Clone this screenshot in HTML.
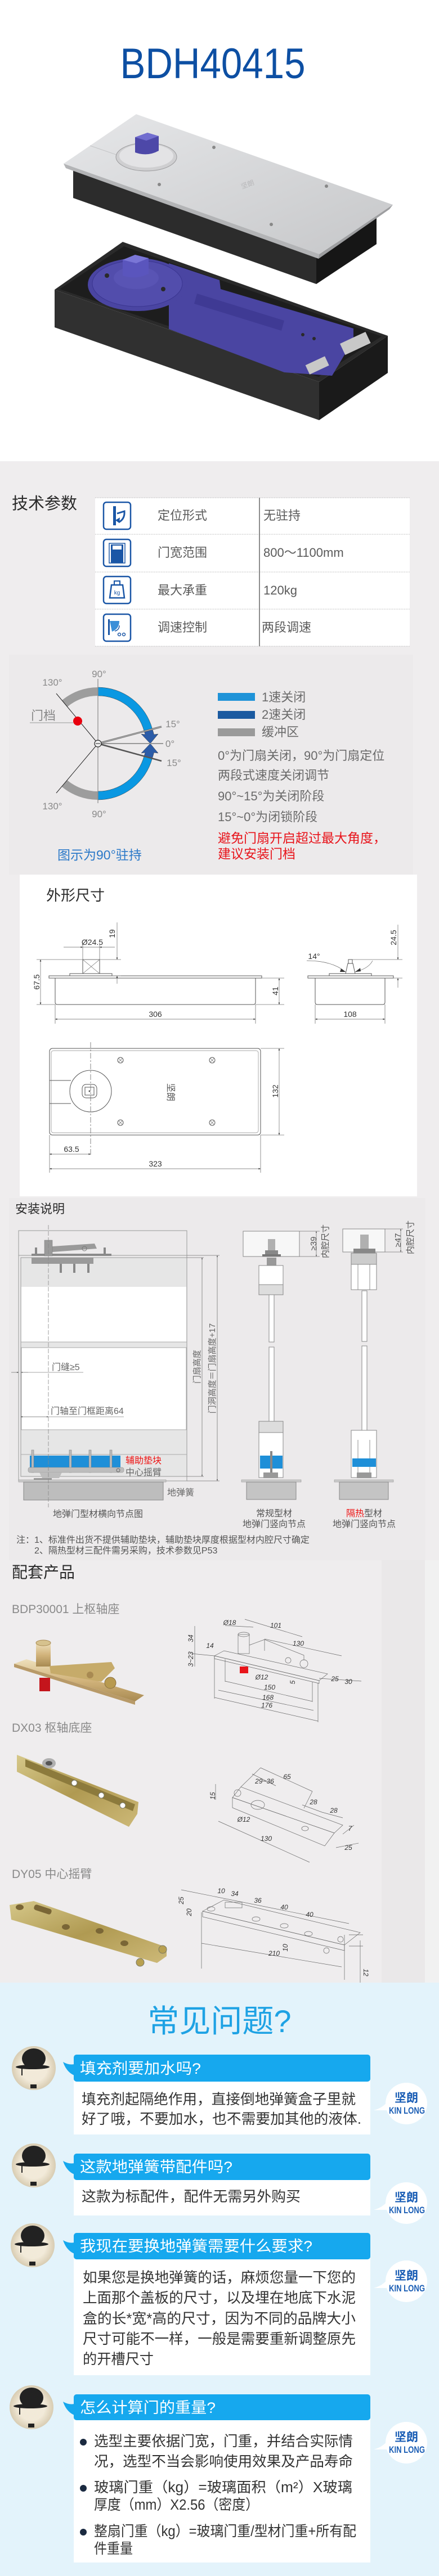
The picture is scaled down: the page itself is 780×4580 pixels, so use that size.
<!DOCTYPE html>
<html><head><meta charset="utf-8">
<style>
*{margin:0;padding:0;box-sizing:border-box}
body{width:780px;height:4580px;position:relative;overflow:hidden;background:#efedee;font-family:"Liberation Sans","Noto Sans CJK SC",sans-serif}
.a{position:absolute;white-space:nowrap}
.lb{font-size:22px;line-height:30px;color:#5a5a5a}
.h{font-size:28px;line-height:40px;color:#2a2a2a}
.dg{font-size:22px;line-height:30px;color:#6a6a6a}
.rd{font-size:23px;line-height:30px;color:#e8141b}
.cap{font-size:16px;line-height:20px;color:#555}
.acc{font-size:21px;line-height:28px;color:#8a8a8a}
svg text{font-family:"Liberation Sans","Noto Sans CJK SC",sans-serif}
.d{font-size:14px;fill:#333}
.g{font-size:17px;fill:#8a8a8a}
.ln{stroke:#555;stroke-width:1;fill:none}
.th{stroke:#777;stroke-width:.8;fill:none}
.dl{stroke:#666;stroke-width:.7;fill:none}
.qt{font-size:27px;fill:#fff}
.at{font-size:25.5px;fill:#333}
</style></head><body>

<div class="a" style="left:0;top:0;width:780px;height:820px;background:#fff"></div>
<div class="a" style="left:16px;top:1164px;width:718px;height:391px;background:#eceaeb"></div>
<div class="a" style="left:35px;top:1555px;width:706px;height:572px;background:#fff"></div>
<div class="a" style="left:16px;top:2130px;width:740px;height:644px;background:#eceaeb"></div>
<div class="a" style="left:678px;top:2774px;width:77px;height:751px;background:#eae8e9"></div>
<div class="a" style="left:755px;top:2774px;width:25px;height:751px;background:#f1f1f1"></div>
<div class="a" style="left:0;top:3525px;width:780px;height:1055px;background:#e3f3fb"></div>

<svg class="a" style="left:0;top:0" width="780" height="4580" viewBox="0 0 780 4580" xmlns="http://www.w3.org/2000/svg">
<defs>
<linearGradient id="lid" x1="0" y1="0" x2="1" y2="1"><stop offset="0" stop-color="#e6e7e9"/><stop offset="1" stop-color="#c6c7c9"/></linearGradient>
<linearGradient id="brass" x1="0" y1="0" x2="0" y2="1"><stop offset="0" stop-color="#eee0bc"/><stop offset=".5" stop-color="#d2b47c"/><stop offset="1" stop-color="#a88a52"/></linearGradient>
<linearGradient id="brass2" x1="0" y1="0" x2="1" y2="1"><stop offset="0" stop-color="#d6c88a"/><stop offset=".5" stop-color="#b09a52"/><stop offset="1" stop-color="#cdb978"/></linearGradient>
<radialGradient id="av" cx=".5" cy=".5" r=".5"><stop offset=".6" stop-color="#f2ead9"/><stop offset="1" stop-color="#d8ccb2"/></radialGradient>
<marker id="ar" viewBox="0 0 10 10" refX="10" refY="5" markerWidth="8" markerHeight="5" orient="auto-start-reverse"><path d="M0,1 L10,5 L0,9z" fill="#333"/></marker>
<marker id="ar2" viewBox="0 0 10 10" refX="10" refY="5" markerWidth="6" markerHeight="4" orient="auto-start-reverse"><path d="M0,1 L10,5 L0,9z" fill="#444"/></marker>
</defs>

<!-- TITLE -->
<text x="378" y="139" text-anchor="middle" font-size="76" textLength="329" lengthAdjust="spacingAndGlyphs" fill="#0d4fa3">BDH40415</text>

<!-- PRODUCT: upper lid -->
<polygon points="130,300 562,455 562,505 130,352" fill="#2c2c2c"/>
<polygon points="562,455 669,386 669,434 562,505" fill="#161616"/>
<polygon points="113,291 242,203 698,364 568,452" fill="url(#lid)"/>
<polygon points="113,291 568,452 566,460 117,299" fill="#b3b4b6"/>
<polygon points="568,452 698,364 692,372 566,460" fill="#9d9ea0"/>
<line x1="160" y1="259" x2="250" y2="290" stroke="#c4c5c7" stroke-width="1"/>
<ellipse cx="260" cy="279" rx="54" ry="25" fill="#cfcfd1" stroke="#9a9a9c"/>
<ellipse cx="260" cy="277" rx="48" ry="21" fill="#e3e3e5"/>
<path d="M240,244 L262,236 L282,242 L282,268 Q262,279 240,271Z" fill="#4d48a8"/>
<polygon points="240,244 262,236 282,242 260,250" fill="#716dcf"/>
<circle cx="380" cy="262" r="3" fill="#888"/><circle cx="283" cy="328" r="3" fill="#888"/>
<circle cx="580" cy="331" r="3" fill="#888"/><circle cx="482" cy="399" r="3" fill="#888"/>
<text x="430" y="336" font-size="12" fill="#b8b8ba" transform="rotate(-20 430 336)">坚朗</text>

<!-- PRODUCT: lower box -->
<polygon points="97,515 218,430 689,597 567,679" fill="#2a2a2a"/>
<polygon points="106,514 220,438 678,598 566,670" fill="#1d1d1d"/>
<polygon points="97,515 567,679 567,747 97,582" fill="#303030"/>
<polygon points="567,679 689,597 689,663 567,747" fill="#1a1a1a"/>
<polygon points="300,468 390,498 392,514 628,584 628,604 590,668 505,662 300,585" fill="#4a45a2"/>
<polygon points="350,522 505,570 500,588 345,540" fill="#3f3a94"/>
<ellipse cx="244" cy="506" rx="88" ry="47" fill="#4a45a2"/>
<ellipse cx="244" cy="504" rx="80" ry="41" fill="#524dac" stroke="#3a3590"/>
<ellipse cx="242" cy="494" rx="40" ry="20" fill="#5954b4"/>
<path d="M218,462 L240,453 L264,459 L264,487 Q240,498 218,490Z" fill="#5a55bd"/>
<polygon points="218,462 240,453 264,459 242,468" fill="#7a76d6"/>
<circle cx="190" cy="490" r="4" fill="#2a2a2a"/><circle cx="290" cy="514" r="4" fill="#2a2a2a"/>
<rect x="606" y="600" width="50" height="22" fill="#c8c8c8" transform="rotate(-25 630 610)"/>
<rect x="545" y="640" width="38" height="18" fill="#c8c8c8" transform="rotate(-25 565 650)"/>
<circle cx="538" cy="595" r="3" fill="#2a2a2a"/><circle cx="558" cy="602" r="3" fill="#2a2a2a"/>

<!-- TECH TABLE -->
<rect x="169" y="885" width="559" height="264" fill="#fff"/>
<g stroke="#b5b5b5" stroke-dasharray="1.5 1.5" stroke-width="1">
<line x1="169" y1="885" x2="728" y2="885"/><line x1="169" y1="950" x2="728" y2="950"/>
<line x1="169" y1="1017" x2="728" y2="1017"/><line x1="169" y1="1083" x2="728" y2="1083"/>
<line x1="169" y1="1149" x2="728" y2="1149"/>
</g>
<line x1="461" y1="885" x2="461" y2="1149" stroke="#666" stroke-width="1.5"/>
<g fill="#fff" stroke="#1a56a6" stroke-width="2.5">
<rect x="184" y="893" width="48" height="48" rx="5"/><rect x="184" y="959" width="48" height="48" rx="5"/>
<rect x="184" y="1025" width="48" height="48" rx="5"/><rect x="184" y="1092" width="48" height="48" rx="5"/>
</g>
<rect x="201" y="900" width="5" height="34" fill="#1a56a6"/>
<path d="M208,913 L221,909 Q222,922 212,928 L207,924" stroke="#1a56a6" stroke-width="3" fill="none"/>
<polygon points="205,925 213,920 212,930" fill="#1a56a6"/>
<rect x="194" y="966" width="28" height="35" fill="none" stroke="#1a56a6" stroke-width="1.5"/>
<rect x="197" y="968" width="22" height="33" fill="#1a56a6"/>
<rect x="200" y="970" width="16" height="7" fill="#fff"/>
<rect x="203" y="1033" width="10" height="7" fill="none" stroke="#1a56a6" stroke-width="2"/>
<path d="M198,1040 L218,1040 L221,1063 L195,1063Z" fill="none" stroke="#1a56a6" stroke-width="2.5"/>
<text x="208" y="1057" text-anchor="middle" font-size="10" fill="#1a56a6">kg</text>
<rect x="192" y="1101" width="3" height="28" fill="#1a56a6"/>
<path d="M195,1104 L212,1104 Q212,1118 199,1123Z" fill="#3a8fd8"/>
<path d="M204,1122 Q212,1120 212,1112" stroke="#1a56a6" stroke-width="1.5" fill="none"/>
<circle cx="212" cy="1128" r="2.5" fill="none" stroke="#1a56a6" stroke-width="1.5"/>
<circle cx="220" cy="1128" r="2.5" fill="none" stroke="#1a56a6" stroke-width="1.5"/>

<!-- ANGLE DIAGRAM -->
<path d="M174,1222 A100,100 0 0 0 109.7,1245.4 L119.4,1256.9 A85,85 0 0 1 174,1237 Z" fill="#9d9d9d"/>
<path d="M174,1222 A100,100 0 0 1 270.6,1296.1 L256.1,1300 A85,85 0 0 0 174,1237 Z" fill="#0a98e2" stroke="#333" stroke-width=".5"/>
<path d="M270.6,1296.1 A100,100 0 0 1 273.5,1306 L281,1305 L267,1322 L251,1305 L258,1306 A85,85 0 0 0 256.1,1300 Z" fill="#2b5ca8" stroke="#333" stroke-width=".5"/>
<path d="M174,1422 A100,100 0 0 1 109.7,1398.6 L119.4,1387.1 A85,85 0 0 0 174,1407 Z" fill="#9d9d9d"/>
<path d="M174,1422 A100,100 0 0 0 270.6,1347.9 L256.1,1344 A85,85 0 0 1 174,1407 Z" fill="#0a98e2" stroke="#333" stroke-width=".5"/>
<path d="M270.6,1347.9 A100,100 0 0 0 273.5,1338 L281,1339 L267,1322 L251,1339 L258,1338 A85,85 0 0 1 256.1,1344 Z" fill="#2b5ca8" stroke="#333" stroke-width=".5"/>
<line x1="174" y1="1207" x2="174" y2="1428" stroke="#8a8a8a" stroke-width="1.2"/>
<line x1="100" y1="1233" x2="174" y2="1322" stroke="#222" stroke-width="1"/>
<line x1="174" y1="1322" x2="100" y2="1410" stroke="#222" stroke-width="1"/>
<line x1="174" y1="1322" x2="290" y2="1322" stroke="#999" stroke-width="2"/>
<line x1="174" y1="1322" x2="287" y2="1292" stroke="#666" stroke-width="3"/>
<line x1="174" y1="1322" x2="287" y2="1292" stroke="#ccc" stroke-width="1"/>
<line x1="174" y1="1322" x2="287" y2="1353" stroke="#555" stroke-width="2.5"/>
<circle cx="174" cy="1322" r="6" fill="#eee" stroke="#222" stroke-width="1.2"/>
<line x1="170" y1="1322" x2="178" y2="1322" stroke="#222"/>
<text class="g" x="176" y="1204" text-anchor="middle">90°</text>
<text class="g" x="93" y="1219" text-anchor="middle">130°</text>
<text class="g" x="307" y="1293" text-anchor="middle">15°</text>
<text class="g" x="302" y="1328" text-anchor="middle">0°</text>
<text class="g" x="309" y="1362" text-anchor="middle">15°</text>
<text class="g" x="93" y="1439" text-anchor="middle">130°</text>
<text class="g" x="176" y="1453" text-anchor="middle">90°</text>
<text x="55" y="1280" font-size="22" fill="#888">门档</text>
<line x1="53" y1="1285" x2="130" y2="1285" stroke="#999"/>
<circle cx="138" cy="1282" r="8" fill="#e8000e"/>
<rect x="387" y="1232" width="66" height="14" fill="#1f93d8"/>
<rect x="387" y="1264" width="66" height="14" fill="#1b5aa0"/>
<rect x="387" y="1295" width="66" height="14" fill="#9a9a9a"/>

<!-- DIMENSION DRAWING: side view -->
<path class="ln" d="M98,1739 L98,1782 Q98,1786 102,1786 L450,1786 Q454,1786 454,1782 L454,1739"/>
<rect class="ln" x="87" y="1735" width="378" height="4"/>
<rect class="ln" x="124" y="1731" width="75" height="4"/>
<rect class="ln" x="147" y="1706" width="30" height="25"/>
<path class="th" d="M147,1706 L177,1731 M177,1706 L147,1731"/>
<path class="th" d="M65,1706 L215,1706 M65,1786 L98,1786 M454,1786 L505,1786 M465,1739 L505,1739 M199,1735 L215,1735 M147,1680 L147,1706 M177,1680 L177,1706 M98,1786 L98,1820 M454,1786 L454,1820"/>
<line class="dl" x1="72" y1="1706" x2="72" y2="1786" marker-start="url(#ar)" marker-end="url(#ar)"/>
<line class="dl" x1="496" y1="1739" x2="496" y2="1786" marker-start="url(#ar)" marker-end="url(#ar)"/>
<line class="dl" x1="208" y1="1640" x2="208" y2="1706" marker-end="url(#ar)"/>
<line class="dl" x1="208" y1="1735" x2="208" y2="1749" marker-start="url(#ar)"/>
<line class="dl" x1="113" y1="1684" x2="147" y2="1684" marker-end="url(#ar)"/>
<line class="dl" x1="204" y1="1684" x2="177" y2="1684" marker-end="url(#ar)"/>
<line class="dl" x1="147" y1="1684" x2="177" y2="1684"/>
<line class="dl" x1="98" y1="1812" x2="454" y2="1812" marker-start="url(#ar)" marker-end="url(#ar)"/>
<text class="d" x="164" y="1680" text-anchor="middle">Ø24.5</text>
<text class="d" transform="translate(70,1746) rotate(-90)" text-anchor="middle">67.5</text>
<text class="d" transform="translate(494,1762) rotate(-90)" text-anchor="middle">41</text>
<text class="d" transform="translate(204,1660) rotate(-90)" text-anchor="middle">19</text>
<text class="d" x="276" y="1808" text-anchor="middle">306</text>
<!-- end view -->
<path class="ln" d="M560,1739 L560,1782 Q560,1786 564,1786 L680,1786 Q684,1786 684,1782 L684,1739"/>
<rect class="ln" x="547" y="1735" width="152" height="4"/>
<rect class="ln" x="585" y="1731" width="75" height="4"/>
<polygon class="ln" points="614,1731 631,1731 627,1713 618,1713"/>
<rect class="ln" x="619" y="1706" width="7" height="7"/>
<path class="dl" d="M545,1708 Q590,1708 614,1728 M662,1708 Q655,1722 631,1728"/>
<polygon points="614,1728 606,1722 604,1728" fill="#333"/>
<polygon points="631,1728 640,1721 641,1727" fill="#333"/>
<path class="th" d="M626,1706 L715,1706 M699,1739 L715,1739 M560,1786 L560,1820 M684,1786 L684,1820"/>
<line class="dl" x1="707" y1="1644" x2="707" y2="1706" marker-end="url(#ar)"/>
<line class="dl" x1="707" y1="1739" x2="707" y2="1756" marker-start="url(#ar)"/>
<line class="dl" x1="560" y1="1812" x2="684" y2="1812" marker-start="url(#ar)" marker-end="url(#ar)"/>
<text class="d" x="558" y="1705" text-anchor="middle">14°</text>
<text class="d" transform="translate(704,1667) rotate(-90)" text-anchor="middle">24.5</text>
<text class="d" x="622" y="1808" text-anchor="middle">108</text>
<!-- top view -->
<rect class="ln" x="88" y="1864" width="375" height="154" rx="5"/>
<rect x="91" y="1868" width="368" height="146" rx="4" fill="none" stroke="#888" stroke-width=".7"/>
<path class="ln" d="M88,1921 L126,1921 M88,1962 L126,1962"/>
<circle class="ln" cx="161" cy="1940" r="37" fill="#fff"/>
<rect class="ln" x="146" y="1928" width="26" height="24" rx="7"/>
<rect class="ln" x="151" y="1933" width="16" height="14"/>
<circle cx="159" cy="1940" r="1.5" fill="#555"/>
<g class="ln"><circle cx="214" cy="1885" r="5"/><circle cx="377" cy="1885" r="5"/><circle cx="214" cy="1996" r="5"/><circle cx="377" cy="1996" r="5"/></g>
<path class="th" d="M210,1881 L218,1889 M218,1881 L210,1889 M373,1881 L381,1889 M381,1881 L373,1889 M210,1992 L218,2000 M218,1992 L210,2000 M373,1992 L381,2000 M381,1992 L373,2000"/>
<line x1="161" y1="1853" x2="161" y2="2056" stroke="#666" stroke-width=".8" stroke-dasharray="10 3 3 3"/>
<text transform="translate(298,1942) rotate(90)" text-anchor="middle" font-size="16" fill="#555">坚朗</text>
<path class="th" d="M463,1864 L505,1864 M463,2018 L505,2018 M88,2018 L88,2085 M463,2018 L463,2085"/>
<line class="dl" x1="496" y1="1864" x2="496" y2="2018" marker-start="url(#ar)" marker-end="url(#ar)"/>
<line class="dl" x1="88" y1="2052" x2="161" y2="2052" marker-start="url(#ar)" marker-end="url(#ar)"/>
<line class="dl" x1="88" y1="2078" x2="463" y2="2078" marker-start="url(#ar)" marker-end="url(#ar)"/>
<text class="d" transform="translate(494,1940) rotate(-90)" text-anchor="middle">132</text>
<text class="d" x="127" y="2048" text-anchor="middle">63.5</text>
<text class="d" x="276" y="2074" text-anchor="middle">323</text>

<!-- INSTALL: left drawing -->
<rect x="33" y="2188" width="299" height="445" fill="none" stroke="#999"/>
<rect x="37" y="2236" width="295" height="389" fill="#e6e6e6" stroke="#999"/>
<rect x="38" y="2288" width="293" height="98" fill="#fff"/>
<rect x="38" y="2396" width="293" height="146" fill="#fff" stroke="#aaa"/>
<line x1="37" y1="2386" x2="332" y2="2386" stroke="#aaa"/>
<line x1="37" y1="2586" x2="332" y2="2586" stroke="#aaa"/>
<line x1="33" y1="2232" x2="332" y2="2232" stroke="#999"/>
<rect x="56" y="2229" width="142" height="4" fill="#8a8a8a"/>
<polygon points="93,2216 168,2211 172,2220 93,2226" fill="#9a9a9a"/>
<rect x="79" y="2205" width="14" height="28" fill="#9a9a9a" stroke="#777" stroke-width=".5"/>
<rect x="62" y="2218" width="4" height="12" fill="#888"/><rect x="184" y="2218" width="4" height="12" fill="#888"/>
<circle cx="150" cy="2220" r="4" fill="none" stroke="#777"/>
<rect x="56" y="2236" width="110" height="11" fill="#9a9a9a"/>
<rect x="106" y="2247" width="4" height="16" fill="#888"/><rect x="130" y="2247" width="4" height="16" fill="#888"/><rect x="155" y="2247" width="4" height="16" fill="#888"/>
<rect x="53" y="2588" width="161" height="21" fill="#1e8fd8"/>
<g fill="#bbb" stroke="#777" stroke-width=".5"><rect x="56" y="2578" width="4" height="40"/><rect x="123" y="2578" width="4" height="40"/><rect x="158" y="2578" width="4" height="40"/><rect x="195" y="2578" width="4" height="40"/></g>
<rect x="50" y="2609" width="170" height="9" rx="3" fill="#bdbdbd" stroke="#888" stroke-width=".5"/>
<circle cx="210" cy="2614" r="3" fill="none" stroke="#666"/>
<polygon points="70,2618 110,2618 105,2628 75,2628" fill="#bdbdbd"/>
<rect x="60" y="2628" width="32" height="4" fill="#999"/>
<rect x="33" y="2631" width="262" height="4" fill="#ccc" stroke="#888" stroke-width=".5"/>
<rect x="42" y="2635" width="248" height="32" fill="#bdbdbd" stroke="#888"/>
<line x1="86" y1="2178" x2="86" y2="2680" stroke="#888" stroke-width=".8" stroke-dasharray="8 3"/>
<path class="th" d="M332,2232 L390,2232 M332,2236 L362,2236 M332,2625 L362,2625 M332,2633 L390,2633"/>
<line class="dl" x1="359" y1="2236" x2="359" y2="2625" marker-start="url(#ar2)" marker-end="url(#ar2)"/>
<line class="dl" x1="386" y1="2232" x2="386" y2="2633" marker-start="url(#ar2)" marker-end="url(#ar2)"/>
<line class="dl" x1="20" y1="2440" x2="33" y2="2440" marker-end="url(#ar2)"/>
<line class="dl" x1="50" y1="2440" x2="37" y2="2440" marker-end="url(#ar2)"/>
<line x1="37" y1="2440" x2="148" y2="2440" stroke="#888" stroke-width=".8"/>
<line class="dl" x1="37" y1="2519" x2="86" y2="2519" marker-start="url(#ar2)" marker-end="url(#ar2)"/>
<line x1="86" y1="2519" x2="220" y2="2519" stroke="#888" stroke-width=".8"/>
<text transform="translate(350,2430) rotate(-90)" text-anchor="middle" font-size="15" fill="#666" dy="5">门扇高度</text>
<text transform="translate(377,2433) rotate(-90)" text-anchor="middle" font-size="15" fill="#666" dy="5">门洞高度＝门扇高度+17</text>
<text x="92" y="2436" font-size="16" fill="#666">门缝≥5</text>
<text x="90" y="2514" font-size="16" fill="#666">门轴至门框距离64</text>
<text x="223" y="2602" font-size="16" fill="#ee1111">辅助垫块</text>
<text x="223" y="2623" font-size="16" fill="#666">中心摇臂</text>
<text x="297" y="2659" font-size="16" fill="#666">地弹簧</text>
<!-- middle drawing -->
<rect x="432" y="2189" width="100" height="45" fill="#f7f7f7" stroke="#888"/>
<rect x="476" y="2203" width="13" height="20" fill="#b0b0b0"/>
<rect x="471" y="2223" width="23" height="8" fill="#888"/>
<rect x="466" y="2230" width="33" height="4" fill="#777"/>
<rect x="474" y="2236" width="17" height="14" fill="#999"/>
<rect x="460" y="2250" width="43" height="34" fill="#fff" stroke="#888"/>
<rect x="460" y="2284" width="43" height="18" fill="#ddd" stroke="#888"/>
<rect x="478" y="2302" width="9" height="84" fill="#fff" stroke="#888"/>
<rect x="478" y="2395" width="9" height="132" fill="#fff" stroke="#888"/>
<rect x="460" y="2527" width="43" height="20" fill="#ddd" stroke="#888"/>
<rect x="460" y="2547" width="43" height="80" fill="#fff" stroke="#888"/>
<rect x="462" y="2588" width="40" height="23" fill="#1e8fd8"/>
<rect x="480" y="2580" width="4" height="40" fill="#888"/>
<rect x="468" y="2618" width="26" height="10" fill="#999"/>
<rect x="429" y="2631" width="106" height="4" fill="#ccc" stroke="#888" stroke-width=".5"/>
<rect x="438" y="2635" width="88" height="31" fill="#c4c4c4" stroke="#888"/>
<path class="th" d="M532,2189 L568,2189 M532,2234 L568,2234"/>
<line class="dl" x1="562" y1="2189" x2="562" y2="2234" marker-start="url(#ar2)" marker-end="url(#ar2)"/>
<text transform="translate(557,2211) rotate(-90)" text-anchor="middle" font-size="15" fill="#555" dy="5">≥39</text>
<text transform="translate(578,2207) rotate(-90)" text-anchor="middle" font-size="15" fill="#555" dy="5">内腔尺寸</text>
<!-- right drawing -->
<rect x="609" y="2185" width="75" height="41" fill="#f7f7f7" stroke="#888"/>
<rect x="640" y="2195" width="15" height="25" fill="#b0b0b0"/>
<rect x="628" y="2220" width="39" height="8" fill="#888"/>
<rect x="624" y="2228" width="45" height="20" fill="#ccc" stroke="#888"/>
<rect x="624" y="2248" width="45" height="45" fill="#fff" stroke="#888"/>
<path class="th" d="M636,2248 L636,2293 M657,2248 L657,2293"/>
<rect x="643" y="2295" width="9" height="90" fill="#fff" stroke="#888"/>
<rect x="643" y="2393" width="9" height="150" fill="#fff" stroke="#888"/>
<rect x="624" y="2543" width="45" height="84" fill="#fff" stroke="#888"/>
<path class="th" d="M636,2560 L636,2620 M657,2560 L657,2620"/>
<rect x="626" y="2593" width="42" height="15" fill="#1e8fd8"/>
<rect x="634" y="2618" width="26" height="10" fill="#999"/>
<rect x="594" y="2631" width="105" height="4" fill="#ccc" stroke="#888" stroke-width=".5"/>
<rect x="603" y="2635" width="87" height="31" fill="#c4c4c4" stroke="#888"/>
<path class="th" d="M684,2185 L716,2185 M684,2226 L716,2226"/>
<line class="dl" x1="712" y1="2185" x2="712" y2="2226" marker-start="url(#ar2)" marker-end="url(#ar2)"/>
<text transform="translate(707,2205) rotate(-90)" text-anchor="middle" font-size="15" fill="#555" dy="5">≥47</text>
<text transform="translate(729,2200) rotate(-90)" text-anchor="middle" font-size="15" fill="#555" dy="5">内腔尺寸</text>

<!-- ACCESSORY PHOTOS -->
<polygon points="25,2958 47,2950 256,3014 240,3025" fill="url(#brass)"/>
<polygon points="25,2958 240,3025 240,3031 25,2964" fill="#b89a68"/>
<rect x="64" y="2921" width="26" height="42" fill="url(#brass)"/>
<ellipse cx="77" cy="2921" rx="13" ry="5" fill="#d6c28e" stroke="#a88a52"/>
<rect x="70" y="2983" width="19" height="24" fill="#c4151c"/>
<polygon points="88,2962 198,2955 204,2966 180,2990 90,2975" fill="#c6ab6a"/>
<circle cx="196" cy="2992" r="10" fill="#b89a50" stroke="#8a7040"/>
<circle cx="160" cy="2978" r="6" fill="#a88a52"/>
<polygon points="30,3120 246,3204 244,3225 229,3248 30,3150" fill="url(#brass2)"/>
<polygon points="45,3128 240,3208 236,3220 45,3141" fill="#8c7a3c"/>
<ellipse cx="87" cy="3135" rx="12" ry="9" fill="#b0b0b0"/><ellipse cx="87" cy="3135" rx="6" ry="4" fill="#555"/>
<circle cx="132" cy="3170" r="5" fill="#fff" stroke="#776"/><circle cx="180" cy="3192" r="5" fill="#fff" stroke="#776"/><circle cx="218" cy="3210" r="5" fill="#fff" stroke="#776"/>
<polygon points="17,3387 60,3380 296,3462 296,3478 279,3490 20,3413" fill="url(#brass2)"/>
<ellipse cx="35" cy="3391" rx="7" ry="5" fill="#7a6636"/>
<rect x="60" y="3390" width="32" height="10" rx="4" fill="#7a6636" transform="rotate(18 76 3395)"/>
<ellipse cx="117" cy="3426" rx="7" ry="5" fill="#7a6636"/><ellipse cx="177" cy="3433" rx="7" ry="5" fill="#7a6636"/><ellipse cx="221" cy="3455" rx="7" ry="5" fill="#7a6636"/>
<circle cx="289" cy="3466" r="7" fill="#b8a050" stroke="#776"/><circle cx="249" cy="3489" r="7" fill="#b8a050" stroke="#776"/>

<!-- ACCESSORY DRAWINGS -->
<g class="dl">
<polygon points="381,2944 398,2935 582,2976 567,2988"/>
<polygon points="381,2944 567,2988 567,2993 381,2949"/>
<rect x="423" y="2906" width="20" height="34"/>
<ellipse cx="433" cy="2906" rx="10" ry="4"/>
<path d="M443,2925 L470,2915 L540,2943 L540,2952 M470,2915 L470,2935"/>
<circle cx="540" cy="2958" r="7"/>
<circle cx="512" cy="2952" r="5"/>
<path d="M400,2890 L450,2893 M435,2879 L537,2910 M470,2914 L607,2944 M400,2989 L555,3025 M388,3005 L557,3041 M381,3018 L565,3060 M567,2984 L642,2989 M346,2891 L346,2963 M340,2940 L381,2944 M381,2944 L381,3020 M565,2992 L565,3062 M555,2990 L555,3026 M400,2950 L400,2990"/>
</g>
<rect x="426" y="2963" width="15" height="12" fill="#e8151b"/>
<g class="dl">
<polygon points="413,3196 428,3177 609,3245 594,3259"/>
<polygon points="413,3196 594,3259 577,3282 413,3214"/>
<ellipse cx="458" cy="3209" rx="12" ry="8"/>
<ellipse cx="542" cy="3251" rx="6" ry="4"/>
<circle cx="422" cy="3188" r="6"/>
<path d="M463,3143 L555,3185 M448,3154 L490,3175 M537,3209 L572,3222 M572,3222 L609,3232 M388,3238 L550,3311 M383,3172 L383,3200 M597,3285 L637,3277 M609,3261 L629,3245 M463,3143 L428,3177 M555,3185 L540,3215"/>
</g>
<g class="dl">
<polygon points="360,3398 398,3378 640,3436 612,3458"/>
<polygon points="360,3398 612,3458 612,3468 360,3408"/>
<ellipse cx="375" cy="3394" rx="7" ry="4"/><rect x="400" y="3382" width="30" height="10"/>
<ellipse cx="455" cy="3412" rx="7" ry="4"/><ellipse cx="505" cy="3424" rx="7" ry="4"/><ellipse cx="548" cy="3438" rx="7" ry="4"/>
<path d="M358,3455 L607,3497 M358,3400 L358,3500 M640,3450 L640,3525 M322,3360 L620,3420 M612,3440 L612,3520 M620,3440 L645,3440 M620,3460 L645,3460"/>
<circle cx="605" cy="3448" r="5"/><circle cx="580" cy="3468" r="5"/>
</g>
<g font-size="12" fill="#333" font-style="italic">
<text x="408" y="2889" text-anchor="middle">Ø18</text><text x="490" y="2894" text-anchor="middle">101</text>
<text transform="translate(343,2913) rotate(-90)" text-anchor="middle">34</text>
<text x="373" y="2930" text-anchor="middle">14</text><text x="530" y="2926" text-anchor="middle">130</text>
<text transform="translate(343,2950) rotate(-90)" text-anchor="middle">3~23</text>
<text x="465" y="2986" text-anchor="middle">Ø12</text>
<text transform="translate(524,2991) rotate(-90)" text-anchor="middle">5</text>
<text x="479" y="3004" text-anchor="middle">150</text><text x="476" y="3022" text-anchor="middle">168</text><text x="474" y="3036" text-anchor="middle">176</text>
<text x="595" y="2989" text-anchor="middle">25</text><text x="619" y="2994" text-anchor="middle">30</text>
<text x="510" y="3163" text-anchor="middle">65</text><text x="470" y="3171" text-anchor="middle">29~36</text>
<text transform="translate(382,3193) rotate(-90)" text-anchor="middle">15</text>
<text x="557" y="3208" text-anchor="middle">28</text><text x="593" y="3223" text-anchor="middle">28</text>
<text x="433" y="3239" text-anchor="middle">Ø12</text><text x="622" y="3255" text-anchor="middle">7</text>
<text x="473" y="3273" text-anchor="middle">130</text><text x="619" y="3289" text-anchor="middle">25</text>
<text x="393" y="3366" text-anchor="middle">10</text><text x="417" y="3371" text-anchor="middle">34</text>
<text x="458" y="3383" text-anchor="middle">36</text><text x="505" y="3395" text-anchor="middle">40</text><text x="550" y="3408" text-anchor="middle">40</text>
<text transform="translate(326,3379) rotate(-90)" text-anchor="middle">25</text>
<text transform="translate(340,3400) rotate(-90)" text-anchor="middle">20</text>
<text x="487" y="3477" text-anchor="middle">210</text>
<text transform="translate(511,3463) rotate(-90)" text-anchor="middle">10</text>
<text transform="translate(646,3507) rotate(90)" text-anchor="middle">12</text>
</g>

<!-- FAQ title -->
<text x="390" y="3613" text-anchor="middle" font-size="56" fill="#1ea2e4">常见问题?</text>

<!-- FAQ avatars -->
<circle cx="60" cy="3677" r="39" fill="url(#av)"/>
<circle cx="60" cy="3850" r="39" fill="url(#av)"/>
<circle cx="58" cy="3992" r="39" fill="url(#av)"/>
<circle cx="56" cy="4280" r="39" fill="url(#av)"/>
<g fill="#222">
<ellipse cx="60" cy="3660" rx="21" ry="18"/><ellipse cx="58" cy="3675" rx="30" ry="4"/><rect x="38" y="3676" width="2" height="14"/><rect x="54" y="3706" width="11" height="7"/>
<ellipse cx="60" cy="3833" rx="21" ry="18"/><ellipse cx="58" cy="3848" rx="30" ry="4"/><rect x="38" y="3849" width="2" height="14"/><rect x="54" y="3879" width="11" height="7"/>
<ellipse cx="58" cy="3975" rx="21" ry="18"/><ellipse cx="56" cy="3990" rx="30" ry="4"/><rect x="36" y="3991" width="2" height="14"/><rect x="52" y="4021" width="11" height="7"/>
<ellipse cx="56" cy="4263" rx="21" ry="18"/><ellipse cx="54" cy="4278" rx="30" ry="4"/><rect x="34" y="4279" width="2" height="14"/><rect x="50" y="4309" width="11" height="7"/>
</g>
<g fill="#fff">
<rect x="131" y="3698" width="527" height="97"/>
<rect x="131" y="3873" width="527" height="66"/>
<rect x="131" y="4014" width="527" height="209"/>
<rect x="131" y="4300" width="527" height="256"/>
</g>
<g fill="#16a8ee">
<rect x="131" y="3653" width="527" height="48" rx="5"/><path d="M112,3666 Q122,3672 132,3670 L132,3690 Q118,3684 112,3666Z"/>
<rect x="131" y="3829" width="527" height="47" rx="5"/><path d="M112,3842 Q122,3848 132,3846 L132,3866 Q118,3860 112,3842Z"/>
<rect x="131" y="3970" width="527" height="47" rx="5"/><path d="M112,3983 Q122,3989 132,3987 L132,4007 Q118,4001 112,3983Z"/>
<rect x="131" y="4257" width="527" height="46" rx="5"/><path d="M112,4270 Q122,4276 132,4274 L132,4294 Q118,4288 112,4270Z"/>
</g>
<g fill="#fff">
<circle cx="722" cy="3740" r="37"/><path d="M664,3752 Q680,3748 690,3735 L694,3752Z"/>
<circle cx="722" cy="3917" r="37"/><path d="M664,3929 Q680,3925 690,3912 L694,3929Z"/>
<circle cx="722" cy="4056" r="37"/><path d="M664,4068 Q680,4064 690,4051 L694,4068Z"/>
<circle cx="722" cy="4343" r="37"/><path d="M664,4355 Q680,4351 690,4338 L694,4355Z"/>
</g>
<g fill="#1b5eb5" font-weight="bold" text-anchor="middle">
<text x="722" y="3737" font-size="21">坚朗</text><text x="723" y="3758" font-size="17" textLength="64" lengthAdjust="spacingAndGlyphs">KIN LONG</text>
<text x="722" y="3914" font-size="21">坚朗</text><text x="723" y="3935" font-size="17" textLength="64" lengthAdjust="spacingAndGlyphs">KIN LONG</text>
<text x="722" y="4053" font-size="21">坚朗</text><text x="723" y="4074" font-size="17" textLength="64" lengthAdjust="spacingAndGlyphs">KIN LONG</text>
<text x="722" y="4340" font-size="21">坚朗</text><text x="723" y="4361" font-size="17" textLength="64" lengthAdjust="spacingAndGlyphs">KIN LONG</text>
</g>
<g fill="#1a2a40"><circle cx="148" cy="4342" r="6"/><circle cx="148" cy="4424" r="6"/><circle cx="148" cy="4502" r="6"/></g>

<!-- FAQ text -->
<g class="qt">
<text x="142" y="3687" textLength="215" lengthAdjust="spacingAndGlyphs">填充剂要加水吗?</text>
<text x="142" y="3862" textLength="271" lengthAdjust="spacingAndGlyphs">这款地弹簧带配件吗?</text>
<text x="142" y="4003" textLength="413" lengthAdjust="spacingAndGlyphs">我现在要换地弹簧需要什么要求?</text>
<text x="142" y="4290" textLength="241" lengthAdjust="spacingAndGlyphs">怎么计算门的重量?</text>
</g>
<g class="at">
<text x="145" y="3741" textLength="487" lengthAdjust="spacingAndGlyphs">填充剂起隔绝作用，直接倒地弹簧盒子里就</text>
<text x="145" y="3776" textLength="497" lengthAdjust="spacingAndGlyphs">好了哦，不要加水，也不需要加其他的液体.</text>
<text x="145" y="3914" textLength="389" lengthAdjust="spacingAndGlyphs">这款为标配件，配件无需另外购买</text>
<text x="147" y="4058" textLength="485" lengthAdjust="spacingAndGlyphs">如果您是换地弹簧的话，麻烦您量一下您的</text>
<text x="147" y="4094" textLength="485" lengthAdjust="spacingAndGlyphs">上面那个盖板的尺寸，以及埋在地底下水泥</text>
<text x="147" y="4131" textLength="485" lengthAdjust="spacingAndGlyphs">盒的长*宽*高的尺寸，因为不同的品牌大小</text>
<text x="147" y="4167" textLength="485" lengthAdjust="spacingAndGlyphs">尺寸可能不一样，一般是需要重新调整原先</text>
<text x="147" y="4203" textLength="126" lengthAdjust="spacingAndGlyphs">的开槽尺寸</text>
<text x="167" y="4349" textLength="460" lengthAdjust="spacingAndGlyphs">选型主要依据门宽，门重，并结合实际情</text>
<text x="167" y="4385" textLength="460" lengthAdjust="spacingAndGlyphs">况，选型不当会影响使用效果及产品寿命</text>
<text x="167" y="4431" textLength="459" lengthAdjust="spacingAndGlyphs">玻璃门重（kg）=玻璃面积（m²）X玻璃</text>
<text x="167" y="4462" textLength="293" lengthAdjust="spacingAndGlyphs">厚度（mm）X2.56（密度）</text>
<text x="167" y="4509" textLength="466" lengthAdjust="spacingAndGlyphs">整扇门重（kg）=玻璃门重/型材门重+所有配</text>
<text x="167" y="4540" textLength="69" lengthAdjust="spacingAndGlyphs">件重量</text>
</g>
</svg>

<!-- TEXT -->
<div class="a h" style="left:21px;top:876px;font-size:29px">技术参数</div>
<div class="a lb" style="left:280px;top:902px">定位形式</div>
<div class="a lb" style="left:280px;top:968px">门宽范围</div>
<div class="a lb" style="left:280px;top:1035px">最大承重</div>
<div class="a lb" style="left:280px;top:1101px">调速控制</div>
<div class="a lb" style="left:468px;top:902px">无驻持</div>
<div class="a lb" style="left:468px;top:968px">800～1100mm</div>
<div class="a lb" style="left:468px;top:1035px">120kg</div>
<div class="a lb" style="left:465px;top:1101px">两段调速</div>

<div class="a dg" style="left:465px;top:1225px">1速关闭</div>
<div class="a dg" style="left:465px;top:1256px">2速关闭</div>
<div class="a dg" style="left:465px;top:1287px">缓冲区</div>
<div class="a dg" style="left:387px;top:1329px">0°为门扇关闭，90°为门扇定位</div>
<div class="a dg" style="left:387px;top:1364px">两段式速度关闭调节</div>
<div class="a dg" style="left:387px;top:1401px">90°~15°为关闭阶段</div>
<div class="a dg" style="left:387px;top:1438px">15°~0°为闭锁阶段</div>
<div class="a rd" style="left:387px;top:1475px">避免门扇开启超过最大角度，</div>
<div class="a rd" style="left:387px;top:1503px">建议安装门档</div>
<div class="a" style="left:102px;top:1505px;font-size:23px;line-height:30px;color:#2a78c8">图示为90°驻持</div>

<div class="a h" style="left:82px;top:1574px;font-size:26px;line-height:36px">外形尺寸</div>
<div class="a h" style="left:27px;top:2135px;font-size:22px;line-height:30px">安装说明</div>

<div class="a cap" style="left:94px;top:2683px">地弹门型材横向节点图</div>
<div class="a cap" style="left:455px;top:2682px">常规型材</div>
<div class="a cap" style="left:431px;top:2701px">地弹门竖向节点</div>
<div class="a cap" style="left:615px;top:2682px"><span style="color:#ee1111">隔热</span>型材</div>
<div class="a cap" style="left:591px;top:2701px">地弹门竖向节点</div>
<div class="a cap" style="left:29px;top:2729px">注：1、标准件出货不提供辅助垫块，辅助垫块厚度根据型材内腔尺寸确定</div>
<div class="a cap" style="left:61px;top:2748px">2、隔热型材三配件需另采购，技术参数见P53</div>

<div class="a h" style="left:21px;top:2776px">配套产品</div>
<div class="a acc" style="left:21px;top:2848px">BDP30001 上枢轴座</div>
<div class="a acc" style="left:21px;top:3059px">DX03 枢轴底座</div>
<div class="a acc" style="left:21px;top:3319px">DY05 中心摇臂</div>

</body></html>
